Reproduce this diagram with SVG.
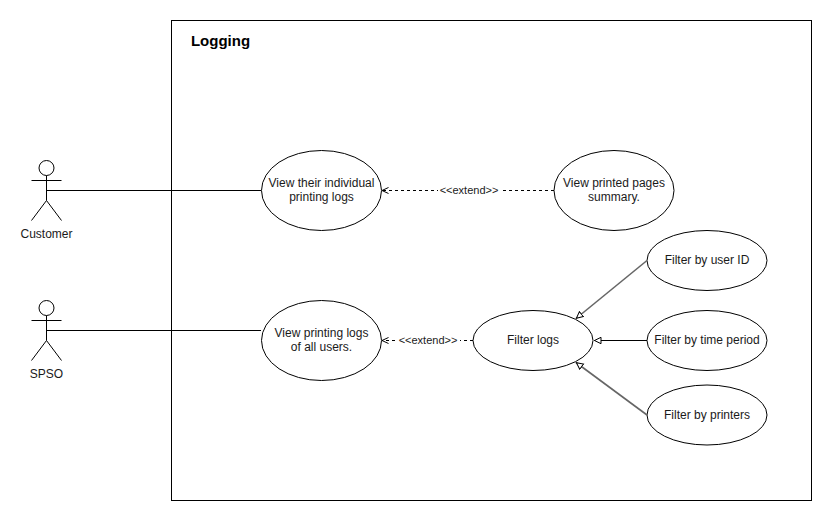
<svg xmlns="http://www.w3.org/2000/svg" width="832" height="521" viewBox="0 0 832 521">
<style>
text{font-family:"Liberation Sans",Arial,sans-serif;font-size:12px;fill:#1a1a1a;text-anchor:middle}
.s{fill:none;stroke:#000;stroke-width:1}
.e{fill:#fff;stroke:#000;stroke-width:1}
.c{fill:none;stroke:#000;stroke-width:1}
.g{fill:none;stroke:#666;stroke-width:1.6}
.d{fill:none;stroke:#000;stroke-width:1;stroke-dasharray:3 3}
.l{font-size:11px}
</style>
<defs>
<marker id="open" markerUnits="userSpaceOnUse" markerWidth="10" markerHeight="10" refX="7" refY="4" orient="auto"><path d="M0.500,1 L7,4 L0.500,7" fill="none" stroke="#000"/></marker>
<marker id="tri" markerUnits="userSpaceOnUse" markerWidth="10" markerHeight="10" refX="7.500" refY="4" orient="auto"><path d="M0.500,0.800 L7,4 L0.500,7.200 Z" fill="#fff" stroke="#000"/></marker>
</defs>
<rect id="boundary" x="171.500" y="20.500" width="640" height="480" fill="#fff" stroke="#000"/>
<text x="220.500" y="46" style="font-size:15px;font-weight:bold;fill:#000">Logging</text>
<g id="uc1"><ellipse class="e" cx="321.500" cy="190.500" rx="60" ry="40"/><text x="321.500" y="187">View their individual</text><text x="321.500" y="201">printing logs</text></g>
<g id="uc2"><ellipse class="e" cx="321.500" cy="340.500" rx="60" ry="40"/><text x="321.500" y="337">View printing logs</text><text x="321.500" y="351">of all users.</text></g>
<g id="uc3"><ellipse class="e" cx="614" cy="190.500" rx="60" ry="40"/><text x="614" y="187">View printed pages</text><text x="614" y="201">summary.</text></g>
<g id="uc4"><ellipse class="e" cx="533" cy="340.500" rx="60" ry="30"/><text x="533" y="344">Filter logs</text></g>
<g id="uc5"><ellipse class="e" cx="707" cy="260.500" rx="60" ry="30"/><text x="707" y="264">Filter by user ID</text></g>
<g id="uc6"><ellipse class="e" cx="707" cy="340.500" rx="60" ry="30"/><text x="707" y="344">Filter by time period</text></g>
<g id="uc7"><ellipse class="e" cx="707" cy="415" rx="60" ry="30"/><text x="707" y="419">Filter by printers</text></g>
<g id="customer">
<circle class="s" cx="46.500" cy="168" r="7.500"/>
<path class="s" d="M46.500 175.500V200.500M31.500 180.500H61.500M46.500 200.500L31.500 220.500M46.500 200.500L61.500 220.500"/>
<text x="46.500" y="238">Customer</text>
</g>
<g id="spso">
<circle class="s" cx="46.500" cy="308" r="7.500"/>
<path class="s" d="M46.500 315.500V340.500M31.500 320.500H61.500M46.500 340.500L31.500 360.500M46.500 340.500L61.500 360.500"/>
<text x="46.500" y="378">SPSO</text>
</g>
<g id="connectors">
<path class="c" d="M46.500 190.500H161L261 190.500"/>
<path class="c" d="M46.500 330.500H161L261 330.500"/>
<path class="d" d="M554 190.500H382" marker-end="url(#open)"/>
<path class="d" d="M473 340.500H382" marker-end="url(#open)"/>
<path class="g" d="M647 260.500L576 318.500" marker-end="url(#tri)"/>
<path class="c" d="M647 340.500H594" marker-end="url(#tri)"/>
<path class="g" d="M647 415L576 362.500" marker-end="url(#tri)"/>
<rect x="438" y="184" width="62" height="13" fill="#fff"/>
<text class="l" x="469" y="194">&lt;&lt;extend&gt;&gt;</text>
<rect x="398" y="334" width="62" height="13" fill="#fff"/>
<text class="l" x="428" y="344">&lt;&lt;extend&gt;&gt;</text>
</g>
</svg>
